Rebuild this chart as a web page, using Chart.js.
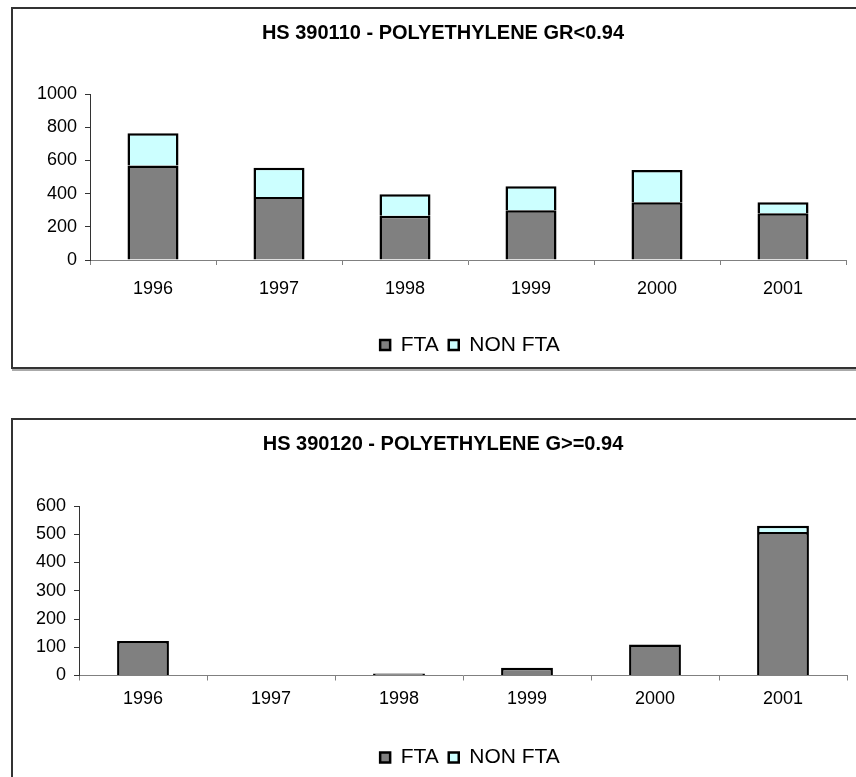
<!DOCTYPE html>
<html>
<head>
<meta charset="utf-8">
<script src="https://cdn.jsdelivr.net/npm/chart.js@4.4.0/dist/chart.umd.min.js"></script>
<style>
  html, body { margin: 0; padding: 0; background: #fff; overflow: hidden; }
  body { width: 856px; height: 777px; position: relative; }
  .frame { position: absolute; left: 11px; width: 860px; height: 358px; border: 2px solid #333; background: #fff; box-shadow: 1px 2px 0 #aaa; }
  #frame1 { top: 7px; }
  #frame2 { top: 418px; }
  .frame canvas { display: block; }
</style>
</head>
<body>
<div class="frame" id="frame1"><canvas id="chart1" width="860" height="358"></canvas></div>
<div class="frame" id="frame2"><canvas id="chart2" width="860" height="358"></canvas></div>
<script>
const years = ['1996', '1997', '1998', '1999', '2000', '2001'];

// HS 390110
const fta390110 = [570, 380, 267, 299, 348, 281];
const nonFta390110 = [193, 176, 129, 145, 194, 67];
const yTicks390110 = [0, 200, 400, 600, 800, 1000];

// HS 390120
const fta390120 = [122, 0, 7, 27, 110, 508];
const nonFta390120 = [0, 0, 0, 0, 0, 22];
const yTicks390120 = [0, 100, 200, 300, 400, 500, 600];

Chart.defaults.font.family = '"Liberation Sans", Arial, sans-serif';
Chart.defaults.color = '#000';

// excel puts the legend a bit right of the title
const legendShift = {
  id: 'legendShift',
  afterLayout(chart, args, opts) {
    chart.legend.left += opts.dx;
    chart.legend.right += opts.dx;
  }
};

function buildChart(canvasId, titleText, ftaValues, nonFtaValues, yTicks, plot) {
  return new Chart(document.getElementById(canvasId), {
    type: 'bar',
    data: {
      labels: years,
      datasets: [
        {
          label: 'FTA',
          data: ftaValues,
          backgroundColor: '#808080',
          borderColor: '#000',
          borderWidth: 2.5,
          barPercentage: 0.405,
          categoryPercentage: 1
        },
        {
          label: 'NON FTA',
          data: nonFtaValues,
          backgroundColor: '#ccffff',
          borderColor: '#000',
          borderWidth: 2.5,
          barPercentage: 0.405,
          categoryPercentage: 1
        }
      ]
    },
    options: {
      responsive: false,
      animation: false,
      layout: { padding: { top: 0, left: 0, right: 0, bottom: plot.bottomPad } },
      plugins: {
        title: {
          display: true,
          text: titleText,
          color: '#000',
          font: { size: 20, weight: 'bold' },
          padding: { top: 12, bottom: plot.titleGap }
        },
        legend: {
          position: 'bottom',
          labels: { boxWidth: 10, boxHeight: 10, padding: 10, color: '#000', font: { size: 21 } }
        },
        tooltip: { enabled: false },
        legendShift: { dx: 27 }
      },
      scales: {
        x: {
          stacked: true,
          grid: { offset: true, drawOnChartArea: false, tickLength: 5, color: '#808080' },
          border: { color: '#808080' },
          ticks: { color: '#000', font: { size: 18 }, padding: plot.xPad },
          afterFit: s => { s.height = plot.xHeight; }
        },
        y: {
          stacked: true,
          min: yTicks[0],
          max: yTicks[yTicks.length - 1],
          ticks: {
            stepSize: yTicks[1] - yTicks[0],
            color: '#000',
            font: { size: 18 },
            padding: 8,
            callback: v => String(v)
          },
          grid: { drawOnChartArea: false, tickLength: 5, color: '#333' },
          border: { color: '#333' },
          afterFit: s => { s.width = plot.left; }
        },
        pad: {
          position: 'right',
          grid: { display: false },
          ticks: { display: false },
          border: { display: false },
          afterFit: s => { s.width = plot.rightGap; }
        }
      }
    },
    plugins: [legendShift]
  });
}

buildChart('chart1', 'HS 390110 - POLYETHYLENE GR<0.94', fta390110, nonFta390110, yTicks390110,
  { left: 77, rightGap: 27, titleGap: 49, xHeight: 64.5, xPad: 13, bottomPad: 1.5 });
buildChart('chart2', 'HS 390120 - POLYETHYLENE G>=0.94', fta390120, nonFta390120, yTicks390120,
  { left: 66, rightGap: 26, titleGap: 50, xHeight: 61.5, xPad: 8, bottomPad: 0 });
</script>
</body>
</html>
